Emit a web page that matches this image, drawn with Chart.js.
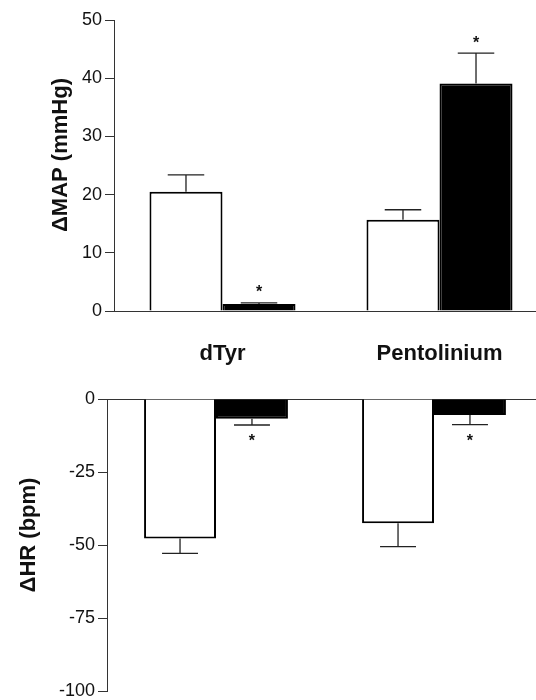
<!DOCTYPE html>
<html lang="en">
<head>
  <meta charset="UTF-8">
  <title>ΔMAP and ΔHR</title>
  <style>
    body {
      margin: 0;
      background: #fff;
      width: 536px;
      height: 700px;
      overflow: hidden;
      position: relative;
    }
    canvas {
      position: absolute;
      left: 0;
    }
    #mapChart { top: 0; }
    #hrChart { top: 380px; }
  </style>
</head>
<body>
  <canvas id="mapChart" width="548" height="390"></canvas>
  <canvas id="hrChart" width="543" height="325"></canvas>

  <script src="https://cdn.jsdelivr.net/npm/chart.js"></script>
  <script>
    // groups and values
    const groups = ['dTyr', 'Pentolinium'];

    const mapTicks = [0, 10, 20, 30, 40, 50];
    const mapControl = [20.5, 15.7];
    const mapControlErr = [2.9, 1.7];
    const mapTreated = [1.2, 39.1];
    const mapTreatedErr = [0.2, 5.2];
    const mapStar = [true, true];

    const hrTicks = [0, -25, -50, -75, -100];
    const hrControl = [-47.7, -42.5];
    const hrControlErr = [5.1, 8.0];
    const hrTreated = [-6.8, -5.5];
    const hrTreatedErr = [2.1, 3.3];
    const hrStar = [true, true];

    const FONT = "'Liberation Sans', Arial, sans-serif";
    const AXIS = '#333';

    Chart.defaults.font.family = FONT;
    Chart.defaults.color = '#111';

    // error bars (one-sided, away from zero) and significance stars
    const errorBars = {
      id: 'errorBars',
      afterDatasetsDraw(chart) {
        const ctx = chart.ctx;
        const yScale = chart.scales.y;
        chart.data.datasets.forEach((ds, i) => {
          const meta = chart.getDatasetMeta(i);
          meta.data.forEach((bar, j) => {
            const v = ds.data[j];
            const e = ds.err[j];
            const end = v + (v < 0 ? -e : e);
            const yEnd = yScale.getPixelForValue(end);
            const half = bar.width / 4;
            ctx.save();
            ctx.strokeStyle = '#222';
            ctx.lineWidth = 1.3;
            ctx.beginPath();
            ctx.moveTo(bar.x, bar.y);
            ctx.lineTo(bar.x, yEnd);
            ctx.moveTo(bar.x - half, yEnd);
            ctx.lineTo(bar.x + half, yEnd);
            ctx.stroke();
            if (ds.star && ds.star[j]) {
              ctx.fillStyle = '#111';
              ctx.font = 'bold 16px ' + FONT;
              ctx.textAlign = 'center';
              ctx.textBaseline = 'middle';
              const dy = v < 0 ? 17 : -10;
              ctx.fillText('*', bar.x, yEnd + dy);
            }
            ctx.restore();
          });
        });
      }
    };

    // rotated y titles
    const yTitle = {
      id: 'yTitle',
      afterDraw(chart, args, opts) {
        const ctx = chart.ctx;
        ctx.save();
        ctx.translate(opts.x, opts.y);
        ctx.rotate(-Math.PI / 2);
        ctx.font = 'bold 22px ' + FONT;
        ctx.fillStyle = '#111';
        ctx.textAlign = 'center';
        ctx.textBaseline = 'middle';
        ctx.fillText(opts.text, 0, 0);
        ctx.restore();
      }
    };

    function barSet(data, err, star, fill, pct) {
      return {
        data: data,
        err: err,
        star: star,
        backgroundColor: fill,
        borderColor: '#000',
        borderWidth: 2,
        barPercentage: 1,
        categoryPercentage: pct
      };
    }

    new Chart(document.getElementById('mapChart'), {
      type: 'bar',
      data: {
        labels: groups,
        datasets: [
          barSet(mapControl, mapControlErr, null, '#fff', 0.673),
          barSet(mapTreated, mapTreatedErr, mapStar, '#000', 0.673)
        ]
      },
      options: {
        responsive: false,
        animation: false,
        layout: { padding: { top: 20, left: 0, right: 0, bottom: 0 } },
        plugins: {
          legend: { display: false },
          tooltip: { enabled: false },
          yTitle: { text: 'ΔMAP (mmHg)', x: 61, y: 155 }
        },
        scales: {
          x: {
            position: 'bottom',
            grid: { display: false, drawTicks: false },
            border: { display: true, color: AXIS, width: 1 },
            ticks: { padding: 30, font: { size: 22, weight: 'bold' }, color: '#111' },
            afterFit(scale) { scale.height = 79; }
          },
          y: {
            min: 0,
            max: 50,
            afterBuildTicks(scale) { scale.ticks = mapTicks.map(v => ({ value: v })); },
            grid: { drawOnChartArea: false, drawTicks: true, tickLength: 9, color: AXIS },
            border: { display: true, color: AXIS, width: 1 },
            ticks: { padding: 3, font: { size: 18 }, color: '#111' },
            afterFit(scale) { scale.width = 114; }
          }
        }
      },
      plugins: [errorBars, yTitle]
    });

    new Chart(document.getElementById('hrChart'), {
      type: 'bar',
      data: {
        labels: groups,
        datasets: [
          barSet(hrControl, hrControlErr, null, '#fff', 0.66),
          barSet(hrTreated, hrTreatedErr, hrStar, '#000', 0.66)
        ]
      },
      options: {
        responsive: false,
        animation: false,
        layout: { padding: { top: 19, left: 0, right: 0, bottom: 6 } },
        plugins: {
          legend: { display: false },
          tooltip: { enabled: false },
          yTitle: { text: 'ΔHR (bpm)', x: 29, y: 155 }
        },
        scales: {
          x: {
            position: 'top',
            grid: { display: false, drawTicks: false },
            border: { display: true, color: AXIS, width: 1 },
            ticks: { display: false },
            afterFit(scale) { scale.height = 0; }
          },
          y: {
            min: -100,
            max: 0,
            afterBuildTicks(scale) { scale.ticks = hrTicks.map(v => ({ value: v })); },
            grid: { drawOnChartArea: false, drawTicks: true, tickLength: 9, color: AXIS },
            border: { display: true, color: AXIS, width: 1 },
            ticks: { padding: 3, font: { size: 18 }, color: '#111' },
            afterFit(scale) { scale.width = 107; }
          }
        }
      },
      plugins: [errorBars, yTitle]
    });
  </script>
</body>
</html>
